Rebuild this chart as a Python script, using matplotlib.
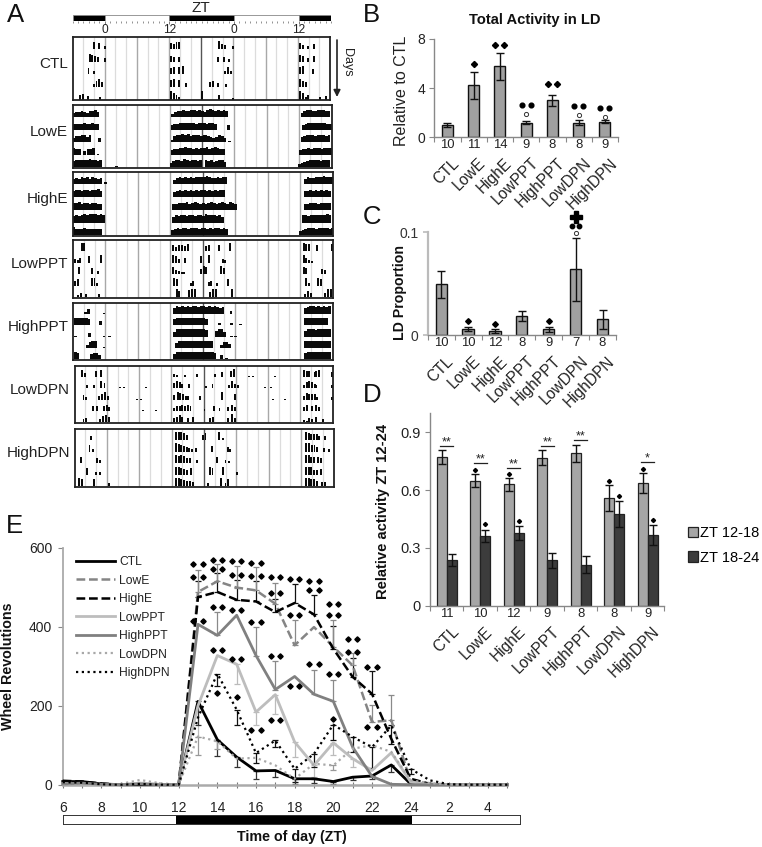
import matplotlib
matplotlib.use("Agg")
import matplotlib.pyplot as plt
from matplotlib.patches import Rectangle
from matplotlib.transforms import ScaledTranslation

plt.rcParams['font.family'] = ['Liberation Sans', 'DejaVu Sans']
W, H = 762, 847
fig = plt.figure(figsize=(W / 100, H / 100), dpi=100)

def ax_px(x0, y0, x1, y1, **kw):
    return fig.add_axes([x0 / W, 1 - y1 / H, (x1 - x0) / W, (y1 - y0) / H], **kw)

def text_px(x, y, s, **kw):
    kw.setdefault('ha', 'center')
    kw.setdefault('va', 'center')
    return fig.text(x / W, 1 - y / H, s, **kw)

GROUPS = ['CTL', 'LowE', 'HighE', 'LowPPT', 'HighPPT', 'LowDPN', 'HighDPN']

# ---- Panel A: activity, (start ZT hour, half-hour bin heights 0-9) per day row
ACTO = {
 'CTL': [
  [(-2.2, "706"), (-0.2, "3"), (12.2, "6577"), (21.2, "854"), (23.7, "3"), (36.3, "640305")],
  [(-3, "8765"), (-0.2, "4"), (12.2, "6505"), (21, "505"), (23, "3"), (36.3, "760406")],
  [(-3.2, "6030"), (12.2, "6707"), (14.5, "8"), (22.3, "373"), (36.3, "780"), (38.7, "5")],
  [(-2.2, "3685"), (12.2, "7807"), (15, "4"), (19.5, "5604"), (22.5, "3"), (36.3, "865")],
  [(-4.8, "5604"), (-1, "3"), (12.2, "9753"), (18, "9"), (21.2, "5"), (23.7, "2"), (36.3, "9735"), (40, "304")],
 ],
 'LowE': [
  [(-6, "5667657786"), (12.3, "467787788787689878787"), (36.3, "57887788877")],
  [(-6, "6667877877"), (12.2, "57788888878887887"), (22.7, "5"), (36.5, "57888888867")],
  [(-6, "5778868"), (-1.2, "5"), (12.2, "3788989788878"), (18.4, "8765"), (20.5, "6875"), (22.8, "1"), (36.3, "67888788878")],
  [(-6, "87604"), (-3.3, "678"), (-1.5, "1"), (12.2, "56788988787889789876"), (36, "567878887888")],
  [(-6, "78888898878"), (1.9, "1"), (12, "578879878878"), (18.5, "8786"), (20.5, "7886"), (35.8, "456788887888")],
 ],
 'HighE': [
  [(-6, "67687868767"), (-0.2, "3"), (12.6, "57878787888898778788"), (36.7, "68778889888")],
  [(-6, "78878878897"), (12.6, "6787878787887878788"), (36.7, "7787878787")],
  [(-6, "88978878877"), (12.4, "678889789878789878987987"), (36.7, "6788878888")],
  [(-6, "787898999898"), (12.4, "6878878878879888786"), (36.3, "88788888898")],
  [(-6, "97778777777"), (12.2, "678788788878878788787"), (35.8, "5678887888878")],
 ],
 'LowPPT': [
  [(-4.6, "99"), (12.4, "6467"), (14.6, "58"), (18.4, "56"), (20.9, "7"), (22.8, "9"), (36.5, "9880"), (39, "7"), (41.7, "8")],
  [(-5.8, "4350"), (-3.2, "7"), (-1, "8"), (12.4, "8740"), (14.5, "5"), (17.5, "7"), (19, "8"), (21.5, "43"), (36.5, "8532")],
  [(-5, "8"), (-2.6, "703"), (12.4, "85322"), (17.5, "698"), (21.2, "97"), (36.5, "87"), (39.9, "64")],
  [(-5.8, "57"), (-2.7, "993"), (12.5, "87"), (15.6, "35"), (18.9, "4503"), (22.5, "7"), (37, "93"), (39.2, "97")],
  [(-5.2, "3504"), (-1.4, "4"), (13, "97"), (15.3, "899"), (19.2, "699"), (23.3, "9"), (36.8, "4750"), (40.5, "599")],
 ],
 'HighPPT': [
  [(-3.9, "26"), (-0.5, "1"), (12.5, "7989898998998989878"), (23, "3"), (36.7, "7899898989")],
  [(-5.8, "999998"), (-1.1, "5"), (12.5, "8999999999998"), (20.9, "3"), (23.1, "3"), (24.7, "1"), (36.7, "999999999")],
  [(-5.8, "1"), (-3.2, "4"), (-0.5, "1"), (0.5, "1"), (12.5, "6999999999998"), (20.3, "7995"), (23.1, "1"), (23.8, "1"), (36.7, "7999899999")],
  [(-3.6, "4798"), (-0.5, "1"), (12.9, "69999999999998"), (21.2, "4775"), (36.7, "8999999999")],
  [(-5.8, "98"), (-2.8, "6885"), (12.5, "6999999999999998"), (21.2, "5"), (22.2, "2"), (23.8, "1"), (36.7, "8999999999")],
 ],
 'LowDPN': [
  [(-4.7, "84"), (-2.2, "708"), (12.4, "32"), (14.3, "2"), (16.6, "3"), (20, "3"), (21.2, "5"), (23, "79"), (26.3, "1"), (27.0, "1"), (31.2, "1"), (36.5, "87605"), (38.8, "78"), (41.8, "5")],
  [(-3.8, "3"), (-2.6, "3"), (-1.2, "80"), (-0.6, "6"), (2.3, "1"), (3, "1"), (7.2, "1"), (12.4, "6875"), (15.2, "5"), (18.2, "2"), (19.5, "5"), (22.5, "4"), (23.2, "853"), (29.3, "1"), (30.3, "1"), (36.5, "37875"), (38.8, "3"), (41.8, "4")],
  [(-4.5, "53"), (-1.7, "4"), (-1, "684"), (5.5, "1"), (6.2, "1"), (12.4, "5"), (13, "8764"), (15, "4"), (17.2, "4"), (21.3, "8"), (23.6, "6"), (30.8, "1"), (33, "1"), (36.5, "476663"), (41.8, "3")],
  [(-2.8, "5"), (-2, "6"), (-0.7, "674"), (6.5, "1"), (9, "1"), (12.4, "3567675"), (18, "2"), (19.8, "5"), (20.8, "3"), (22.4, "4"), (23.2, "74"), (36.5, "4706"), (38.8, "74")],
  [(-4.5, "45"), (-1.5, "4"), (-0.8, "786"), (12.4, "5686"), (15, "5"), (15.8, "6"), (19, "5"), (19.6, "6"), (22.4, "5"), (23.2, "95"), (36.5, "325"), (38, "4"), (38.8, "6"), (40, "4")],
 ],
 'HighDPN': [
  [(-3.2, "4"), (12.6, "9998"), (14.7, "5"), (17.6, "58"), (20.6, "9"), (21.3, "2"), (36.7, "98766"), (39.2, "4"), (40.3, "4")],
  [(-3.4, "7"), (-2.8, "3"), (12.6, "9876543"), (16.4, "4"), (19.3, "6"), (22.2, "53"), (36.7, "99"), (37.8, "775"), (40, "4"), (41, "3")],
  [(-4.9, "7"), (-2, "63"), (12.6, "98986"), (15.2, "6"), (16.5, "3"), (20.3, "7"), (21.8, "3"), (22.4, "2"), (36.7, "9977"), (39, "76")],
  [(-3.9, "7"), (-2.2, "3"), (-1.5, "3"), (12.6, "99765"), (15.4, "7"), (18.9, "97"), (21.3, "9"), (24, "3"), (36.7, "999"), (38.2, "55"), (39.5, "6"), (42, "5")],
  [(-5.3, "98"), (-2.5, "8"), (0.2, "4"), (12.6, "99876"), (15.2, "65"), (18.5, "4"), (21, "9"), (21.8, "48"), (36.7, "998"), (38.2, "86"), (39.7, "55")],
 ],
}
ACTO_BOX = {
 'CTL': (72.5, 37, 330, 100.5),
 'LowE': (72.5, 105.5, 331.5, 168),
 'HighE': (72.5, 172.5, 332.5, 236),
 'LowPPT': (73, 240, 332.5, 298),
 'HighPPT': (73, 303, 332.5, 360),
 'LowDPN': (74.5, 366, 332.5, 423),
 'HighDPN': (74.5, 429, 333.5, 487),
}
BIN = 0.5
SOLID = ('LowE', 'HighE', 'HighPPT')
for name in GROUPS:
    x0, y0, x1, y1 = ACTO_BOX[name]
    ax = ax_px(x0, y0, x1, y1)
    ax.set_xlim(-6, 42)
    ax.set_ylim(0, 5)
    ax.set_xticks([]); ax.set_yticks([])
    for t in range(-4, 42, 2):
        if t == 18:
            c, lw = '#555555', 1.0
        elif t % 6 == 0:
            c, lw = '#a8a8a8', 1.0
        else:
            c, lw = '#dcdcdc', 0.9
        ax.axvline(t, color=c, lw=lw, zorder=1)
    frac = 1.0 if name in SOLID else 0.72
    scale = 0.64 if name in SOLID else 0.7
    for r, row in enumerate(ACTO[name]):
        base = 4 - r + 0.06
        for start, digits in row:
            ts = [start + BIN * i for i in range(len(digits))]
            hs = [int(d) / 9 * scale for d in digits]
            ax.bar(ts, hs, width=BIN * frac, bottom=base, align='edge', color='#0a0a0a', lw=0, zorder=2)
    for s in ax.spines.values():
        s.set_linewidth(1.3)
        s.set_color('#222222')
    text_px(x0 - 4.5, (y0 + y1) / 2 - 5, name, ha='right', fontsize=11, color='#222222')

# Light/dark bar over panel A
ax = ax_px(72.5, 15, 331, 21)
ax.set_xlim(-6, 42); ax.set_ylim(0, 1)
ax.set_yticks([])
for a, b, c in [(-6, 0, 'black'), (0, 12, 'white'), (12, 24, 'black'), (24, 36, 'white'), (36, 42, 'black')]:
    ax.add_patch(Rectangle((a, 0), b - a, 1, fc=c, ec='#888888', lw=0.6))
for s in ax.spines.values():
    s.set_visible(False)
ax.set_xticks([0, 12, 24, 36])
ax.set_xticklabels(['0', '12', '0', '12'], fontsize=8.6, color='#222222')
ax.set_xticks(range(-6, 43), minor=True)
ax.tick_params(axis='x', which='major', length=2, width=0.6, color='#666666', pad=0.5)
ax.tick_params(axis='x', which='minor', length=1.5, width=0.5, color='#666666')
text_px(201, 8, 'ZT', fontsize=11, color='#222222')
fig.add_artist(plt.Annotation('', xy=(337 / W, 1 - 97 / H), xytext=(337 / W, 1 - 40 / H), xycoords='figure fraction',
                              textcoords='figure fraction',
                              arrowprops=dict(arrowstyle='-|>', color='#222222', lw=1.2, shrinkA=0, shrinkB=0)))
text_px(347, 62, 'Days', rotation=-90, fontsize=9, color='#222222')

# ---- Panel B
B_N = [10, 11, 14, 9, 8, 8, 9]
B_VAL = [1.0, 4.25, 5.8, 1.2, 3.0, 1.2, 1.25]
B_ERR = [0.15, 1.1, 1.1, 0.1, 0.48, 0.22, 0.12]
B_DIAMOND = [(1, 5.94, 1), (2, 7.5, 2), (4, 4.37, 2)]
B_DOTS = [(3, 2.66), (5, 2.55), (6, 2.41)]
B_OPEN = [(3, 1.87), (5, 1.82), (6, 1.68)]
# ---- Panel C
C_N = [10, 10, 12, 8, 9, 7, 8]
C_VAL = [0.0495, 0.006, 0.0042, 0.0188, 0.0058, 0.064, 0.0155]
C_ERR = [0.013, 0.002, 0.002, 0.005, 0.0025, 0.0305, 0.0095]
C_DIAMOND = [(1, 0.0142, 1), (2, 0.011, 1), (4, 0.0139, 1)]
C_DOTS = [(5, 0.106)]
C_OPEN = [(5, 0.0993)]
C_PLUS = [(5, 0.115)]
# ---- Panel D
D_N = [11, 10, 12, 9, 8, 8, 9]
D_EARLY = [0.772, 0.649, 0.63, 0.768, 0.79, 0.557, 0.635]
D_EARLY_ERR = [0.035, 0.033, 0.033, 0.038, 0.042, 0.068, 0.052]
D_LATE = [0.235, 0.363, 0.376, 0.235, 0.213, 0.476, 0.367]
D_LATE_ERR = [0.031, 0.03, 0.036, 0.037, 0.045, 0.069, 0.05]
D_EARLY_MARK = [(1, 0.704), (2, 0.685), (5, 0.649), (6, 0.71)]
D_LATE_MARK = [(1, 0.422), (2, 0.438), (5, 0.571), (6, 0.443)]
D_SIG = [(0, 0.827, '**'), (1, 0.739, '**'), (2, 0.716, '**'), (3, 0.83, '**'), (4, 0.858, '**'), (6, 0.746, '*')]

def cat_axis(ax, n_labels, names, spine_c='#888888', lw=1.0, label_pad=13, label_fs=11.2):
    ax.set_xlim(-0.5, 6.5)
    ax.spines['top'].set_visible(False)
    ax.spines['right'].set_visible(False)
    for k in ('left', 'bottom'):
        ax.spines[k].set_color(spine_c)
        ax.spines[k].set_linewidth(lw)
    ax.set_xticks(range(7))
    ax.set_xticklabels(names, rotation=45, ha='right', va='top', rotation_mode='anchor',
                       fontsize=label_fs, color='#222222')
    ax.set_xticks([i - 0.5 for i in range(8)], minor=True)
    ax.tick_params(axis='x', which='major', length=0, pad=label_pad)
    ax.tick_params(axis='x', which='minor', length=3.5, width=0.8, color='#888888')
    ax.tick_params(axis='y', length=3.5, width=0.8, color='#888888', pad=3)
    shift = ScaledTranslation(4.5 / 100, 0, fig.dpi_scale_trans)
    for lab in ax.get_xticklabels():
        lab.set_transform(lab.get_transform() + shift)
    for i, n in enumerate(n_labels):
        ax.annotate(str(n), xy=(i, 0), xycoords=('data', 'axes fraction'), xytext=(0, -8),
                    textcoords='offset pixels', ha='center', va='center', fontsize=9.4, color='#222222')

def marks(ax, items, marker, size, sep=0.17, **kw):
    for it in items:
        i, y = it[0], it[1]
        cnt = it[2] if len(it) > 2 else 1
        xs = [i] if cnt == 1 else [i - sep, i + sep]
        ax.plot(xs, [y] * len(xs), ls='none', marker=marker, ms=size, clip_on=False, zorder=6, **kw)

EB = dict(ecolor='#111111', elinewidth=1.0, capsize=2.9, capthick=1.0)

# B
ax = ax_px(434.3, 39, 618, 137.3)
ax.bar(range(7), B_VAL, width=0.42, color='#a0a0a0', edgecolor='#111111', lw=1.0, yerr=B_ERR, error_kw=EB)
ax.set_ylim(0, 8)
ax.set_yticks([0, 4, 8])
ax.tick_params(axis='y', labelsize=10, labelcolor='#222222')
cat_axis(ax, B_N, GROUPS)
marks(ax, B_DIAMOND, 'D', 3.1, color='black')
marks(ax, [(i, y, 2) for i, y in B_DOTS], 'o', 3.4, color='black')
marks(ax, B_OPEN, 'o', 3.0, mfc='white', mec='#333333', mew=0.7)
text_px(401.5, 91, 'Relative to CTL', rotation=90, fontsize=11.5, color='#222222')
text_px(535, 20, 'Total Activity in LD', fontsize=10.6, fontweight='bold', color='#111111')

# C
ax = ax_px(427.7, 232.3, 616, 335.3)
ax.bar(range(7), C_VAL, width=0.42, color='#a0a0a0', edgecolor='#111111', lw=1.0, yerr=C_ERR, error_kw=EB)
ax.set_ylim(0, 0.1)
ax.set_yticks([0, 0.1])
ax.set_yticklabels(['0', '0.1'], fontsize=10, color='#333333')
cat_axis(ax, C_N, GROUPS)
ax.spines['left'].set_color('#bbbbbb')
ax.spines['left'].set_linewidth(1.6)
ax.tick_params(axis='y', color='#bbbbbb', width=1.2)
marks(ax, C_DIAMOND, 'D', 2.9, color='black')
marks(ax, [(i, y, 2) for i, y in C_DOTS], 'o', 3.2, sep=0.14, color='black')
marks(ax, C_OPEN, 'o', 3.0, mfc='white', mec='#333333', mew=0.7)
marks(ax, C_PLUS, 'P', 8, color='black')
text_px(400, 292, 'LD Proportion', rotation=90, fontsize=10.2, fontweight='bold', color='#111111')

# D
ax = ax_px(430, 413, 664.3, 605.7)
xs = list(range(7))
w = 0.3
ax.bar([x - w / 2 for x in xs], D_EARLY, width=w, color='#a6a6a6', edgecolor='#222222', lw=0.9,
       yerr=D_EARLY_ERR, error_kw=EB, label='ZT 12-18')
ax.bar([x + w / 2 for x in xs], D_LATE, width=w, color='#3c3c3c', edgecolor='#222222', lw=0.9,
       yerr=D_LATE_ERR, error_kw=EB, label='ZT 18-24')
ax.set_ylim(0, 1)
ax.set_yticks([0, 0.3, 0.6, 0.9])
ax.set_yticklabels(['0', '0.3', '0.6', '0.9'], fontsize=10.5, color='#222222')
cat_axis(ax, D_N, GROUPS)
marks(ax, [(i - w / 2, y) for i, y in D_EARLY_MARK], 'D', 2.1, color='black')
marks(ax, [(i + w / 2, y) for i, y in D_LATE_MARK], 'D', 2.1, color='black')
for i, y, s in D_SIG:
    ax.plot([i - 0.19, i + 0.19], [y, y], color='#222222', lw=0.9)
    ax.text(i, y - 0.012, s, ha='center', va='bottom', fontsize=9, color='#222222')
text_px(383, 511, 'Relative activity ZT 12-24', rotation=90, fontsize=10.6, fontweight='bold', color='#111111')
ax.legend(loc='upper left', bbox_to_anchor=(687.5 / W, 1 - 526 / H), bbox_transform=fig.transFigure, frameon=False,
          fontsize=10.5, handlelength=0.75, handleheight=0.75, handletextpad=0.1, labelspacing=0.72,
          borderpad=0, borderaxespad=0)

# ---- Panel E
HOURS = list(range(6, 30))
TICK_HOURS = [6, 8, 10, 12, 14, 16, 18, 20, 22, 24, 26, 28]
TICK_LABELS = ['6', '8', '10', '12', '14', '16', '18', '20', '22', '24', '2', '4']
#           6  7  8 9 10 11 12 13   14   15   16   17   18   19   20   21   22   23   24  25 26 27 28 29
E_CTL =     [8, 8, 2, 0, 0, 0, 0, 211, 114, 70, 35, 36, 15, 15, 8, 19, 22, 50, 2, 0, 0, 0, 0, 0]
E_LOWE =    [5, 6, 1, 0, 3, 1, 0, 488, 515, 499, 492, 458, 353, 399, 349, 302, 159, 163, 7, 1, 0, 0, 0, 0]
E_HIGHE =   [10, 8, 3, 0, 1, 0, 0, 475, 488, 468, 464, 437, 460, 431, 344, 273, 230, 116, 15, 2, 0, 0, 0, 0]
E_LOWPPT =  [3, 2, 0, 0, 4, 1, 0, 200, 327, 305, 184, 228, 108, 49, 106, 66, 36, 81, 7, 0, 0, 0, 0, 0]
E_HIGHPPT = [2, 4, 1, 0, 2, 0, 0, 406, 378, 429, 327, 241, 274, 229, 211, 95, 21, 1, 0, 0, 0, 0, 0, 0]
E_LOWDPN =  [4, 3, 0, 2, 12, 4, 0, 122, 110, 66, 68, 49, 15, 53, 49, 91, 100, 83, 11, 4, 1, 0, 0, 0]
E_HIGHDPN = [6, 5, 1, 0, 2, 0, 0, 170, 281, 190, 80, 112, 40, 78, 152, 121, 95, 150, 40, 11, 1, 0, 0, 0]
E_SERIES = [
    ('CTL', E_CTL, '-', 'black', 2.0),
    ('LowE', E_LOWE, (0, (3.5, 1.5)), '#858585', 1.8),
    ('HighE', E_HIGHE, (0, (3.5, 1.5)), 'black', 1.8),
    ('LowPPT', E_LOWPPT, '-', '#bdbdbd', 2.0),
    ('HighPPT', E_HIGHPPT, '-', '#808080', 2.0),
    ('LowDPN', E_LOWDPN, (0, (1, 1.6)), '#a8a8a8', 1.6),
    ('HighDPN', E_HIGHDPN, (0, (1, 1.6)), 'black', 1.6),
]
# error bars: hour -> size, drawn above (+) or below (-) the mean
E_ERR_HIGHE = {13: 40, 14: 49, 15: 49, 16: 51, 17: 34, 18: 49, 19: 50, 20: 59, 21: 49, 22: 58}
E_ERR_LOWE = {13: 56, 14: 43, 15: 54, 16: 59, 17: 53, 18: 65, 20: 67, 21: 32, 22: 44, 23: 65}
E_ERR_HIGHPPT = {14: 59, 16: 72, 17: 72, 19: 62, 20: 55}
E_ERR_LOWPPT = {13: 80, 15: 51, 16: 32, 17: 50, 18: 38, 19: 30, 20: 32, 21: 22}
E_ERR_HIGHDPN = {14: 30, 15: 40, 16: 25, 17: 17, 18: 34, 19: 34, 20: 40, 21: 38, 22: 52, 23: 46, 24: 13}
E_ERR_CTL = {13: 60, 14: 42, 15: 24, 16: 21, 17: 17, 18: 13, 19: 11, 20: 6, 21: 7, 22: 7, 23: 19}
E_ERR_LOWDPN = {13: 48, 14: 19, 20: 13}
E_ERRS = [(E_HIGHE, E_ERR_HIGHE, 1, '#111111'), (E_LOWE, E_ERR_LOWE, 1, '#8a8a8a'),
          (E_HIGHPPT, E_ERR_HIGHPPT, 1, '#8a8a8a'), (E_LOWPPT, E_ERR_LOWPPT, -1, '#bbbbbb'),
          (E_HIGHDPN, E_ERR_HIGHDPN, -1, '#111111'), (E_CTL, E_ERR_CTL, -1, '#333333'),
          (E_LOWDPN, E_ERR_LOWDPN, -1, '#999999')]
E_PAIRS = [(13, 559), (13, 527), (13, 415), (14, 570), (14, 546), (14, 450), (14, 341), (15, 566), (15, 530),
           (15, 443), (15, 318), (16, 561), (16, 528), (16, 411), (16, 139), (17, 526), (17, 486), (17, 325),
           (17, 164), (18, 522), (18, 429), (18, 250), (19, 515), (19, 492), (19, 305), (20, 457), (20, 429),
           (20, 279), (21, 370), (21, 336), (22, 299), (22, 146)]
E_SINGLES = [(14, 232), (15, 222), (20, 167)]

ax = ax_px(62.7, 547.7, 62.7 + 23 * 19.33, 784.7)
ax.patch.set_visible(False)
ax.set_xlim(6, 29); ax.set_ylim(0, 600)
for name, vals, ls, c, lw in E_SERIES:
    ax.plot(HOURS, vals, ls=ls, color=c, lw=lw, label=name, zorder=3, clip_on=False)
for vals, errs, sign, c in E_ERRS:
    for h, e in errs.items():
        v = vals[HOURS.index(h)]
        low = [[0], [e]] if sign > 0 else [[e], [0]]
        ax.errorbar([h], [v], yerr=low, color=c, elinewidth=0.9, capsize=2.5, capthick=0.9, zorder=2, fmt='none')
for h, y in E_PAIRS:
    ax.plot([h - 0.24, h + 0.24], [y, y], ls='none', marker='D', ms=2.7, color='black', clip_on=False, zorder=5)
for h, y in E_SINGLES:
    ax.plot([h], [y], ls='none', marker='D', ms=2.7, color='black', zorder=5)
for k in ('top', 'right'):
    ax.spines[k].set_visible(False)
ax.spines['left'].set_color('#aaaaaa'); ax.spines['left'].set_linewidth(1.3)
ax.spines['bottom'].set_color('#aaaaaa'); ax.spines['bottom'].set_linewidth(1.8)
ax.set_yticks([0, 200, 400, 600])
ax.set_xticks(TICK_HOURS)
ax.set_xticklabels(TICK_LABELS, fontsize=10, color='#222222')
ax.set_xticks(HOURS, minor=True)
ax.tick_params(axis='y', labelsize=10, labelcolor='#222222', length=3.5, width=0.8, color='#888888', pad=4)
ax.tick_params(axis='x', which='major', direction='inout', length=5, width=0.8, color='#777777', pad=9.5)
ax.tick_params(axis='x', which='minor', direction='inout', length=5, width=0.8, color='#777777')
ax.legend(loc='upper left', bbox_to_anchor=(76 / W, 1 - 556 / H), bbox_transform=fig.transFigure, frameon=False,
          fontsize=8.7, handlelength=3.2, labelspacing=0.54, handletextpad=0.4, borderpad=0, borderaxespad=0,
          labelcolor='#222222')
text_px(8.5, 666, 'Wheel Revolutions', rotation=90, fontsize=10.3, fontweight='bold', color='#111111')
text_px(292, 837, 'Time of day (ZT)', fontsize=10.3, fontweight='bold', color='#111111')

ax = ax_px(63, 815, 520, 824)
ax.set_xlim(6, 6 + 457 / 19.33); ax.set_ylim(0, 1)
ax.set_xticks([]); ax.set_yticks([])
ax.add_patch(Rectangle((11.82, 0), 12.26, 1, fc='black', ec='none'))
for s in ax.spines.values():
    s.set_linewidth(0.7); s.set_color('#333333')

for s, x, y in [('A', 16, 15), ('B', 371, 15), ('C', 372, 217), ('D', 372, 395), ('E', 14, 526)]:
    text_px(x, y, s, fontsize=18.5, color='#111111')

fig.savefig('out.png', dpi=100, facecolor='white')
